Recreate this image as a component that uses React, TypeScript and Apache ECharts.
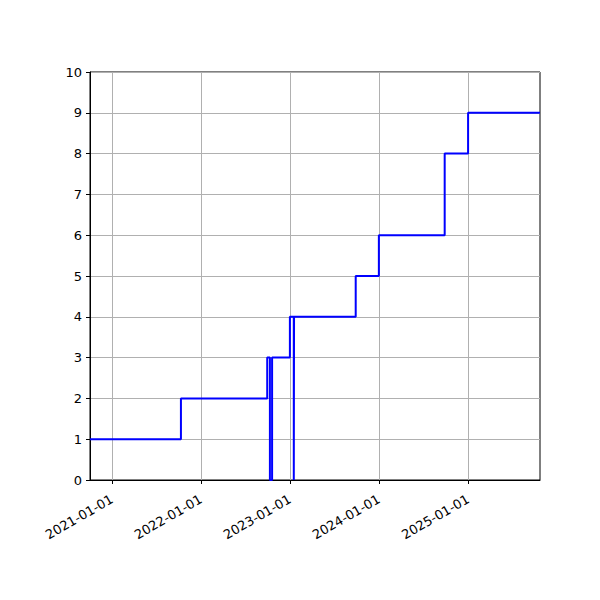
import React, { useEffect, useRef } from 'react';
import * as echarts from 'echarts';

// step data (value holds from each date until the next one)
const stepDates = [
    '2020-10-03', '2021-10-11', '2022-09-30', '2022-10-11', '2022-10-20',
    '2023-01-01', '2023-01-17', '2023-01-18', '2023-09-28', '2024-01-01',
    '2024-09-27', '2025-01-01', '2025-10-23',
];
const stepValues = [1, 2, 3, 0, 3, 4, 0, 4, 5, 6, 8, 9, 9];

const tickDates = ['2021-01-01', '2022-01-01', '2023-01-01', '2024-01-01', '2025-01-01'];
const xMinDate = '2020-10-03';
const xMaxDate = '2025-10-23';

const toTs = (s: string) => {
    const [y, m, d] = s.split('-').map(Number);
    return Date.UTC(y, m - 1, d);
};

const fmt = (v: number) => {
    const d = new Date(v);
    const p = (n: number) => (n < 10 ? '0' + n : '' + n);
    return d.getUTCFullYear() + '-' + p(d.getUTCMonth() + 1) + '-' + p(d.getUTCDate());
};

const App = () => {
    const chartRef = useRef<HTMLDivElement>(null);

    useEffect(() => {
        if (!chartRef.current) return;
        const myChart = echarts.init(chartRef.current, null, { renderer: 'svg' });
        const ticks = tickDates.map(toTs);
        const font = 'DejaVu Sans';

        const option = {
            animation: false,
            backgroundColor: '#ffffff',
            grid: {
                left: 90, right: 60, top: 72, bottom: 120,
                show: true, borderColor: '#000', borderWidth: 1, backgroundColor: 'transparent',
            },
            xAxis: {
                type: 'value',
                min: toTs(xMinDate),
                max: toTs(xMaxDate),
                axisLine: { show: true, lineStyle: { color: '#000', width: 1 } },
                axisTick: { show: true, customValues: ticks, length: 4, lineStyle: { color: '#000' } },
                axisLabel: {
                    customValues: ticks,
                    formatter: (v: number) => fmt(v),
                    rotate: 30,
                    color: '#000',
                    fontSize: 13,
                    fontFamily: font,
                    margin: 18,
                },
                splitLine: { show: false },
            },
            yAxis: {
                type: 'value',
                min: 0, max: 10, interval: 1,
                axisLine: { show: true, lineStyle: { color: '#000', width: 1 } },
                axisTick: { show: true, length: 4, lineStyle: { color: '#000' } },
                axisLabel: { color: '#000', fontSize: 13, fontFamily: font, margin: 8 },
                splitLine: { show: true, lineStyle: { color: '#b0b0b0', width: 1 } },
            },
            series: [
                {
                    type: 'line',
                    data: [],
                    z: 1,
                    markLine: {
                        z: 1,
                        silent: true,
                        symbol: ['none', 'none'],
                        label: { show: false },
                        lineStyle: { color: '#b0b0b0', type: 'solid', width: 1 },
                        data: ticks.map((t) => ({ xAxis: t })),
                    },
                },
                {
                    type: 'line',
                    step: 'end',
                    z: 3,
                    showSymbol: false,
                    symbol: 'none',
                    lineStyle: { color: '#0000ff', width: 2 },
                    data: stepDates.map((d, i) => [toTs(d), stepValues[i]]),
                },
            ],
        };

        myChart.setOption(option);
        return () => {
            myChart.dispose();
        };
    }, []);

    return <div ref={chartRef} style={{ width: 600, height: 600, margin: -8 }}></div>;
};

export default App;
